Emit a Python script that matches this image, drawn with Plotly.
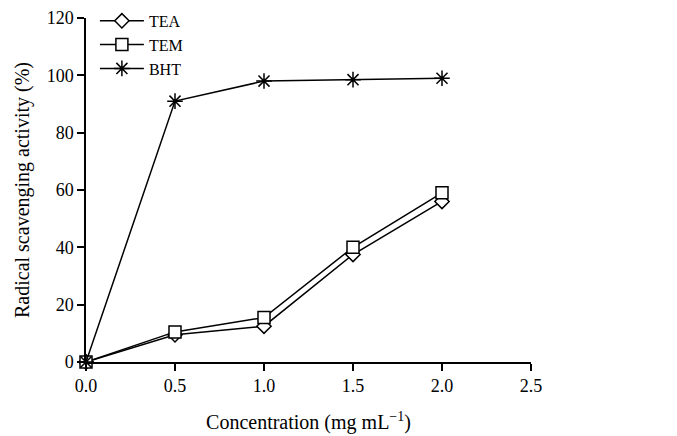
import plotly.graph_objects as go

conc = [0.0, 0.5, 1.0, 1.5, 2.0]
tea = [0.0, 9.5, 12.5, 37.5, 56.0]
tem = [0.0, 10.5, 15.5, 40.0, 59.0]
bht = [0.0, 91.0, 98.0, 98.5, 99.0]
x_ticks = [0.0, 0.5, 1.0, 1.5, 2.0, 2.5]
x_ticklabels = ["0.0", "0.5", "1.0", "1.5", "2.0", "2.5"]
y_ticks = [0, 20, 40, 60, 80, 100, 120]

font = "Liberation Serif, Times New Roman, serif"

fig = go.Figure()
fig.add_trace(go.Scatter(x=conc, y=tea, name="TEA", mode="lines+markers",
                         line=dict(color="black", width=1.5),
                         marker=dict(symbol="diamond", size=11, color="white",
                                     line=dict(color="black", width=1.5))))
fig.add_trace(go.Scatter(x=conc, y=tem, name="TEM", mode="lines+markers",
                         line=dict(color="black", width=1.5),
                         marker=dict(symbol="square", size=12, color="white",
                                     line=dict(color="black", width=1.5))))
fig.add_trace(go.Scatter(x=conc, y=bht, name="BHT", mode="lines+markers",
                         line=dict(color="black", width=1.5),
                         marker=dict(symbol="asterisk-open", size=13, color="black",
                                     line=dict(color="black", width=1.5))))

fig.update_layout(
    width=669, height=428,
    margin=dict(l=78, r=146, t=10, b=74, autoexpand=False),
    paper_bgcolor="white", plot_bgcolor="white",
    font=dict(family=font, size=18, color="black"),
    showlegend=True,
    legend=dict(x=0.02, y=1.041, xanchor="left", yanchor="top",
                bgcolor="rgba(0,0,0,0)", font=dict(size=16, family=font),
                tracegroupgap=0, itemwidth=44),
    xaxis=dict(range=[0, 2.5], tickvals=x_ticks, ticktext=x_ticklabels,
               showgrid=False, zeroline=False, showline=True, linecolor="black",
               linewidth=1.5, ticks="outside", ticklen=7, tickcolor="black",
               tickwidth=1.5, automargin=False, tickfont=dict(size=18),
               ticklabeloverflow="allow",
               title=dict(text="Concentration (mg mL<sup>−1</sup>)", standoff=20,
                          font=dict(size=20))),
    yaxis=dict(range=[0, 120], tickvals=y_ticks, showgrid=False, zeroline=False,
               showline=True, linecolor="black", linewidth=1.5, ticks="outside",
               ticklen=7, tickcolor="black", tickwidth=1.5, automargin=False,
               tickfont=dict(size=18), ticklabeloverflow="allow",
               title=dict(text="Radical scavenging activity (%)", standoff=12,
                          font=dict(size=20))),
)
fig.update_traces(cliponaxis=False)

fig.write_html("out.html")
